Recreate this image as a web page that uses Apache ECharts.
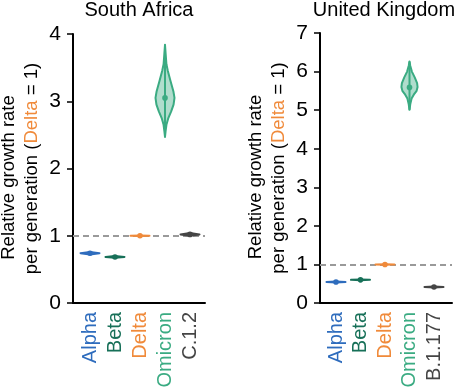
<!DOCTYPE html>
<html>
<head>
<meta charset="utf-8">
<script src="https://cdn.jsdelivr.net/npm/echarts@6/dist/echarts.min.js"></script>
<style>html,body{margin:0;padding:0;background:#fff}#c{width:458px;height:388px}</style>
</head>
<body>
<div id="c"></div>
<script>
// ---- Data ----
const saTitle = 'South Africa';
const ukTitle = 'United Kingdom';
const saCats = ['Alpha', 'Beta', 'Delta', 'Omicron', 'C.1.2'];
const ukCats = ['Alpha', 'Beta', 'Delta', 'Omicron', 'B.1.177'];
const saMedian = [0.74, 0.685, 1.00, 3.05, 1.02];
const ukMedian = [0.545, 0.60, 1.00, 5.59, 0.415];
// violin profiles: [value, relative half-width]
const saProfiles = [
  [[0.722, 0], [0.74, 1], [0.758, 0]],
  [[0.672, 0], [0.685, 1], [0.698, 0]],
  [[0.996, 0], [1.00, 1], [1.004, 0]],
  [[2.47, 0], [2.55, 0.06], [2.65, 0.15], [2.75, 0.35], [2.85, 0.65], [2.95, 0.9], [3.05, 1.0],
   [3.15, 0.88], [3.3, 0.58], [3.45, 0.3], [3.55, 0.15], [3.7, 0.07], [3.84, 0]],
  [[1.00, 0], [1.02, 1], [1.04, 0]]
];
const ukProfiles = [
  [[0.533, 0], [0.545, 1], [0.557, 0]],
  [[0.588, 0], [0.60, 1], [0.612, 0]],
  [[0.994, 0], [1.00, 1], [1.006, 0]],
  [[5.01, 0], [5.15, 0.08], [5.3, 0.22], [5.4, 0.45], [5.5, 0.75], [5.6, 0.85],
   [5.7, 0.8], [5.85, 0.55], [6.0, 0.25], [6.15, 0.08], [6.26, 0]],
  [[0.403, 0], [0.415, 1], [0.427, 0]]
];
const saYTicks = [0, 1, 2, 3, 4];
const ukYTicks = [0, 1, 2, 3, 4, 5, 6, 7];
const refValue = 1;

// ---- Styles ----
const FONT = "'Liberation Sans', Arial, Helvetica, sans-serif";
const colors = ['#2e6cbd', '#177058', '#f08a3a', '#3aab82', '#454545'];
const HALF_W = 9.5;

function makeRender(profiles) {
  return function (params, api) {
    const i = api.value(0);
    const med = api.value(1);
    const prof = profiles[params.dataIndex];
    const color = colors[params.dataIndex];
    const c = api.coord([i, med]);
    const cx = c[0];
    const right = prof.map(p => [cx + p[1] * HALF_W, api.coord([i, p[0]])[1]]);
    const left = prof.slice().reverse().map(p => [cx - p[1] * HALF_W, api.coord([i, p[0]])[1]]);
    const pts = right.concat(left);
    const yLo = api.coord([i, prof[0][0]])[1];
    const yHi = api.coord([i, prof[prof.length - 1][0]])[1];
    return {
      type: 'group',
      children: [
        { type: 'polygon', shape: { points: pts }, style: { fill: color, opacity: 0.4 } },
        { type: 'polygon', shape: { points: pts }, style: { fill: 'none', stroke: color, lineWidth: 2, lineJoin: 'round' } },
        { type: 'line', shape: { x1: cx, y1: yLo, x2: cx, y2: yHi }, style: { stroke: color, lineWidth: 2 } },
        { type: 'circle', shape: { cx: cx, cy: c[1], r: 2.8 }, style: { fill: color } }
      ]
    };
  };
}

function xAxisCfg(grid, cats, min, max) {
  const rich = {};
  cats.forEach((c, i) => { rich['c' + i] = { color: colors[i], fontSize: 20, fontFamily: FONT }; });
  return {
    type: 'value', gridIndex: grid, min: min, max: max,
    axisLine: { show: true, onZero: false, lineStyle: { color: '#000', width: 2 } },
    axisTick: { show: false },
    splitLine: { show: false },
    axisLabel: {
      customValues: cats.map((c, i) => i),
      rotate: 90, margin: 9,
      formatter: v => '{c' + v + '|' + cats[v] + '}',
      rich: rich
    }
  };
}

function yAxisCfg(grid, ticks) {
  return {
    type: 'value', gridIndex: grid, min: ticks[0], max: ticks[ticks.length - 1], interval: 1,
    axisLine: { show: true, onZero: false, lineStyle: { color: '#000', width: 2 } },
    axisTick: { show: true, length: 6, lineStyle: { color: '#000', width: 1.5 } },
    splitLine: { show: false },
    axisLabel: { color: '#000', fontSize: 21, fontFamily: FONT, margin: 12 },
    name: '{a|Relative growth rate}\n{b|per generation (}{d|Delta}{b| = 1)}',
    nameLocation: 'middle', nameRotate: 90, nameGap: 29,
    nameTextStyle: {
      fontFamily: FONT, fontSize: 18.5, lineHeight: 23.5, color: '#000',
      rich: {
        a: { fontFamily: FONT, fontSize: 18.5, lineHeight: 23.5, color: '#000', padding: [0, 18, 0, 0] },
        b: { fontFamily: FONT, fontSize: 18.5, lineHeight: 23.5, color: '#000' },
        d: { fontFamily: FONT, fontSize: 18.5, lineHeight: 23.5, color: '#f08a3a' }
      }
    }
  };
}

function refLine(xi, yi) {
  return {
    type: 'line', xAxisIndex: xi, yAxisIndex: yi, data: [], z: 1,
    markLine: {
      silent: true, symbol: 'none', animation: false,
      label: { show: false },
      lineStyle: { color: '#9a9a9a', type: [6, 4], width: 2 },
      data: [{ yAxis: refValue }]
    }
  };
}

const chart = echarts.init(document.getElementById('c'), null, { renderer: 'canvas' });
chart.setOption({
  animation: false,
  backgroundColor: '#fff',
  title: [
    { text: saTitle, left: 139, top: 0, textAlign: 'center', padding: 0,
      textStyle: { fontFamily: FONT, fontSize: 20, fontWeight: 'normal', color: '#000' } },
    { text: ukTitle, left: 384, top: 0, textAlign: 'center', padding: 0,
      textStyle: { fontFamily: FONT, fontSize: 20, fontWeight: 'normal', color: '#000' } }
  ],
  grid: [
    { left: 73, width: 132, top: 34, height: 269, containLabel: false, outerBoundsMode: 'none' },
    { left: 320, width: 132, top: 33, height: 270, containLabel: false, outerBoundsMode: 'none' }
  ],
  xAxis: [
    xAxisCfg(0, saCats, -0.68, 4.6),
    xAxisCfg(1, ukCats, -0.653, 4.735)
  ],
  yAxis: [yAxisCfg(0, saYTicks), yAxisCfg(1, ukYTicks)],
  series: [
    refLine(0, 0),
    refLine(1, 1),
    {
      type: 'custom', xAxisIndex: 0, yAxisIndex: 0, z: 5,
      renderItem: makeRender(saProfiles),
      encode: { x: 0, y: 1 },
      data: saCats.map((c, i) => [i, saMedian[i]])
    },
    {
      type: 'custom', xAxisIndex: 1, yAxisIndex: 1, z: 5,
      renderItem: makeRender(ukProfiles),
      encode: { x: 0, y: 1 },
      data: ukCats.map((c, i) => [i, ukMedian[i]])
    }
  ]
});
</script>
</body>
</html>
